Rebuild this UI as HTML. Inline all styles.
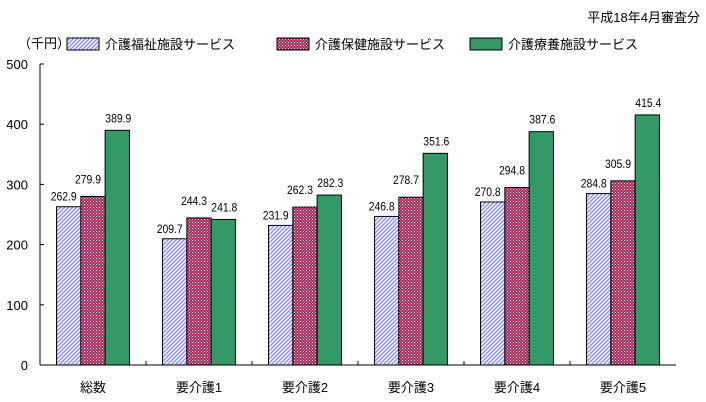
<!DOCTYPE html>
<html><head><meta charset="utf-8"><style>
body{margin:0;background:#fff;}
svg{display:block;font-family:"Liberation Sans","Noto Sans CJK JP",sans-serif;}
</style></head><body>
<svg id="c" width="706" height="402" viewBox="0 0 706 402">
<defs>
<pattern id="pBlue" width="4" height="4" patternUnits="userSpaceOnUse">
<rect width="4" height="4" fill="#fff"/>
<path d="M-1,5 L5,-1 M-1,1 L1,-1 M3,5 L5,3" stroke="#8c8cf0" stroke-width="1.4"/>
</pattern>
<pattern id="pRed" width="3" height="3" patternUnits="userSpaceOnUse">
<rect width="3" height="3" fill="#a8285a"/>
<rect x="0" y="0" width="1" height="1" fill="#fff"/>
<rect x="1.5" y="1.5" width="1" height="1" fill="#f0c0d0"/>
</pattern>
</defs>
<text x="700" y="22" font-size="13" text-anchor="end">平成18年4月審査分</text>
<text x="18" y="48" font-size="13">（千円）</text>
<g id="legend"></g>
<g id="plot"></g>
</svg>
<script>
const categories=["総数","要介護1","要介護2","要介護3","要介護4","要介護5"];
const seriesNames=["介護福祉施設サービス","介護保健施設サービス","介護療養施設サービス"];
const welfare=[262.9,209.7,231.9,246.8,270.8,284.8];
const health=[279.9,244.3,262.3,278.7,294.8,305.9];
const medical=[389.9,241.8,282.3,351.6,387.6,415.4];
const yTicks=[0,100,200,300,400,500];
const series=[welfare,health,medical];
const fills=["url(#pBlue)","url(#pRed)","#339966"];
const lblDx=[-5,-5,1], lblDy=[-6,-13,-8];
const NS="http://www.w3.org/2000/svg";
const x0=40,y0=365,yTop=64,gw=106,bw=24.3;
function y(v){return y0-(v/500)*(y0-yTop);}
function gx(i){return x0+gw*i+gw/2;}
function mk(t,a,p){const e=document.createElementNS(NS,t);for(const k in a)e.setAttribute(k,a[k]);(p||plot).appendChild(e);return e;}
const plot=document.getElementById('plot');
const legend=document.getElementById('legend');
let ax=mk('line',{x1:x0,y1:yTop,x2:x0,y2:y0,stroke:'#000'});


let bx=mk('line',{x1:x0,y1:y0,x2:x0+gw*6,y2:y0,stroke:'#000'});


yTicks.forEach(v=>{
 const t=mk('line',{x1:x0,y1:y(v),x2:x0+4,y2:y(v),stroke:'#000'});
 
 
 const l=mk('text',{x:x0-12,y:y(v)+5,'font-size':13,'text-anchor':'end'});
 l.textContent=v;
 
 
});
for(let i=1;i<6;i++){
 const t=mk('line',{x1:x0+gw*i,y1:y0,x2:x0+gw*i,y2:y0-4,stroke:'#000'});
 
 
}
categories.forEach((c,i)=>{
 const l=mk('text',{x:gx(i),y:392,'font-size':13,'text-anchor':'middle'});
 l.textContent=c;
 
 
 series.forEach((s,j)=>{
  const bx0=gx(i)-1.5*bw+j*bw;
  const r=mk('rect',{x:bx0,y:y(s[i]),width:bw,height:y0-y(s[i]),fill:fills[j],stroke:'#000','stroke-width':1});
  
  
  const cx=bx0+bw/2+lblDx[j];
  const vl=mk('text',{x:cx-13,y:y(s[i])+lblDy[j],'font-size':12,textLength:26,lengthAdjust:'spacingAndGlyphs'});
  vl.textContent=s[i].toFixed(1);
  
  
 });
});
const lx=[67,277,470];
seriesNames.forEach((n,j)=>{
 const r=mk('rect',{x:lx[j],y:38,width:32,height:12,fill:fills[j],stroke:'#000'},legend);
 
 
 const t=mk('text',{x:lx[j]+38,y:49,'font-size':13},legend);
 t.textContent=n;
 
 
});
</script>
</body></html>
